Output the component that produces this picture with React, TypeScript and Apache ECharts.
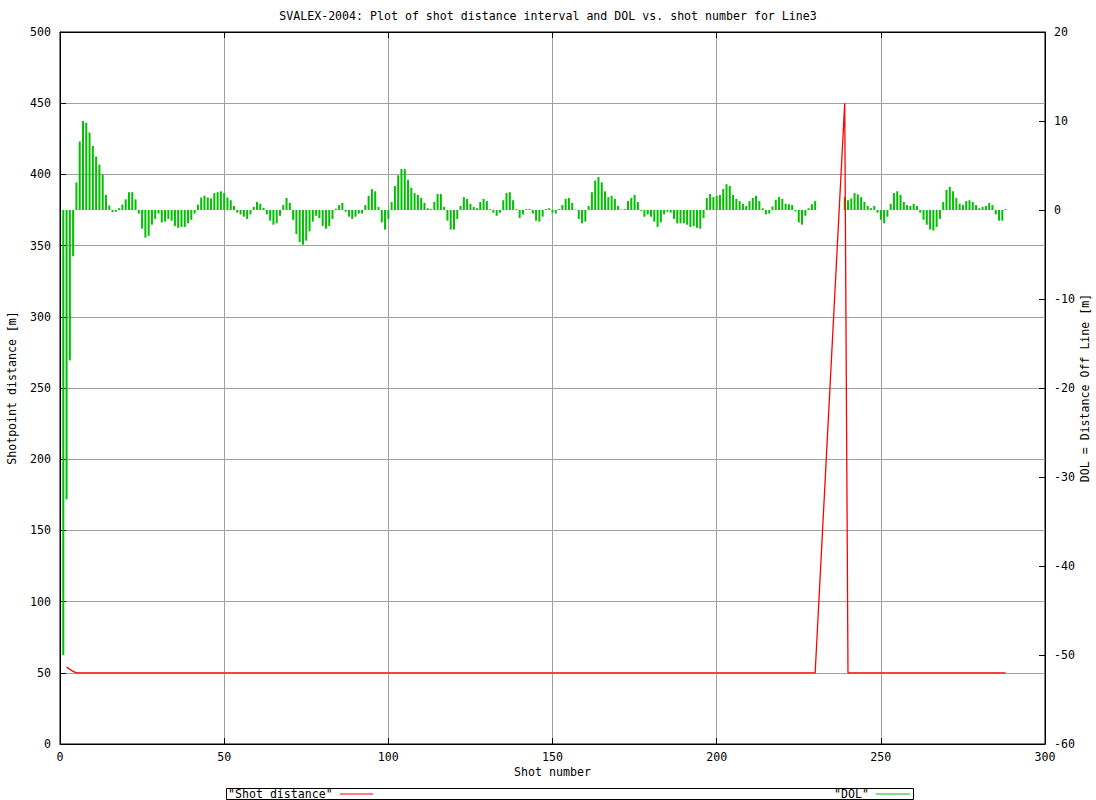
import React, { useEffect, useRef } from "react";
import * as echarts from "echarts";

const TITLE = "SVALEX-2004: Plot of shot distance interval and DOL vs. shot number for Line3";
const X_NAME = "Shot number";
const Y_NAME = "Shotpoint distance [m]";
const Y2_NAME = "DOL = Distance Off Line [m]";
const SERIES_DIST = "Shot distance";
const SERIES_DOL = "DOL";

// Shot distance (left axis), vertices of the red line: [shot, distance]
const shotDistance: [number, number][] = [
  [2, 54], [3, 52.5], [4, 51], [5, 50], [230, 50], [239, 450], [240, 50], [288, 50],
];

// DOL (right axis) for shots 1..288 (null = missing shot)
const dol: (number | null)[] = [
  -50, -32.5, -16.9, -5.2, 3.1, 7.7, 10.0, 9.8, 8.7, 7.2,
  6.0, 5.1, 4.0, 1.7, 0.5, -0.25, -0.2, 0.2, 0.6, 1.2,
  2.0, 2.0, 1.2, -0.4, -2.1, -3.1, -2.9, -1.65, -1.0, -0.4,
  -1.4, -1.3, -1.0, -1.2, -1.8, -2.0, -1.9, -1.9, -1.5, -1.1,
  -0.4, 0.6, 1.4, 1.6, 1.4, 1.3, 1.9, 2.0, 2.1, 1.9,
  1.4, 1.1, 0.45, -0.3, -0.5, -0.75, -1.0, -0.5, 0.35, 0.9,
  0.7, 0.25, -0.5, -1.2, -1.65, -1.5, -0.65, 0.55, 1.35, 0.8,
  -1.1, -2.7, -3.6, -3.9, -3.45, -2.4, -1.3, -0.65, -0.9, -1.8,
  -2.1, -1.8, -1.0, 0.15, 0.55, 0.8, -0.2, -0.75, -1.0, -0.75,
  -0.4, -0.4, 0.55, 1.6, 2.35, 2.1, 0.35, -1.4, -2.2, -1.0,
  0.9, 2.7, 3.9, 4.6, 4.6, 3.4, 2.5, 1.9, 1.7, 1.35,
  0.8, 0.2, 0.1, 0.9, 1.8, 1.8, 0.35, -1.2, -2.2, -2.2,
  -1.0, 0.45, 1.45, 1.25, 0.7, 0.35, 0.2, 0.9, 1.25, 1.0,
  0.1, -0.3, -0.65, -0.3, 1.1, 1.9, 2.0, 1.1, 0.1, -0.9,
  -0.5, 0.1, 0.1, -0.4, -1.2, -1.3, -0.75, 0.1, 0.2, -0.3,
  -0.4, 0.1, 0.55, 1.25, 1.35, 0.8, 0.05, -1.0, -1.5, -1.3,
  0.45, 2.0, 3.3, 3.7, 3.1, 2.1, 1.45, 1.6, 1.25, 0.45,
  0.05, 0.1, 1.0, 1.35, 1.7, 0.9, -0.1, -0.75, -0.5, -0.75,
  -1.3, -1.9, -1.4, -0.5, -0.2, -0.3, -1.0, -1.5, -1.5, -1.5,
  -1.65, -1.9, -1.8, -2.0, -2.1, -0.9, 1.35, 1.8, 1.45, 1.6,
  1.7, 2.35, 2.9, 2.7, 1.7, 1.25, 1.0, 0.7, 0.45, 1.0,
  1.35, 1.6, 1.0, 0.2, -0.5, -0.4, 0.4, 1.15, 1.45, 1.25,
  0.7, 0.65, 0.55, -0.15, -1.4, -1.65, -0.65, 0.2, 0.65, 1.0,
  null, null, null, null, null, null, null, null, 1.45, 1.1,
  1.3, 1.9, 1.75, 1.45, 0.9, 0.45, 0.2, 0.45, -0.3, -1.1,
  -1.5, -0.75, 0.7, 1.9, 2.1, 1.7, 0.9, 0.55, 0.45, 0.7,
  0.45, -0.3, -1.1, -1.65, -2.2, -2.3, -1.9, -1.0, 0.9, 2.25,
  2.6, 2.1, 1.35, 0.7, 0.55, 1.0, 1.1, 0.9, 0.55, 0.2,
  0.35, 0.45, 0.8, 0.55, -0.5, -1.2, -1.2, 0.1,
];

const FONT = '"DejaVu Sans Mono", "Liberation Mono", monospace';
const FS = 11.6;

export default function App() {
  const ref = useRef<HTMLDivElement>(null);
  useEffect(() => {
    if (!ref.current) return;
    const chart = echarts.init(ref.current, undefined, { renderer: "svg" });
    const dolPts: [number, number][] = [];
    dol.forEach((v, i) => {
      if (v !== null) dolPts.push([i + 1, v]);
    });
    const txt = { fontFamily: FONT, fontSize: FS, color: "#000" };
    const L = 60, R = 1045, T = 32, B = 744;
    chart.setOption({
      animation: false,
      backgroundColor: "#ffffff",
      title: {
        text: TITLE,
        left: "center",
        top: 5,
        textStyle: { ...txt, fontWeight: "normal" },
      },
      grid: {
        left: L, right: 1096 - R, top: T, bottom: 800 - B,
        containLabel: false, outerBoundsMode: "none",
        show: true, borderColor: "#000", borderWidth: 1, backgroundColor: "transparent",
      },
      xAxis: [
        {
          type: "value", min: 0, max: 300, interval: 50, position: "bottom",
          name: X_NAME, nameLocation: "middle", nameGap: 22, nameTextStyle: txt,
          nameMoveOverlap: false,
          axisLine: { show: true, onZero: false, lineStyle: { color: "#000", width: 1 } },
          axisTick: { show: true, inside: true, length: 6, lineStyle: { color: "#000" } },
          axisLabel: { ...txt, margin: 7 },
          splitLine: { show: true, lineStyle: { color: "#a0a0a0", width: 1 } },
        },
        {
          type: "value", min: 0, max: 300, interval: 50, position: "top",
          axisLine: { show: true, onZero: false, lineStyle: { color: "#000", width: 1 } },
          axisTick: { show: true, inside: true, length: 6, lineStyle: { color: "#000" } },
          axisLabel: { show: false },
          splitLine: { show: false },
        },
      ],
      yAxis: [
        {
          type: "value", min: 0, max: 500, interval: 50, position: "left",
          name: Y_NAME, nameLocation: "middle", nameGap: 42, nameRotate: 90, nameTextStyle: txt,
          nameMoveOverlap: false,
          axisLine: { show: true, onZero: false, lineStyle: { color: "#000", width: 1 } },
          axisTick: { show: true, inside: true, length: 6, lineStyle: { color: "#000" } },
          axisLabel: { ...txt, margin: 9 },
          splitLine: { show: true, lineStyle: { color: "#a0a0a0", width: 1 } },
        },
        {
          type: "value", min: -60, max: 20, interval: 10, position: "right",
          name: Y2_NAME, nameLocation: "middle", nameGap: 34, nameRotate: 90, nameTextStyle: txt,
          nameMoveOverlap: false,
          axisLine: { show: true, onZero: false, lineStyle: { color: "#000", width: 1 } },
          axisTick: { show: true, inside: true, length: 6, lineStyle: { color: "#000" } },
          axisLabel: { ...txt, margin: 9 },
          splitLine: { show: false },
        },
      ],
      series: [
        {
          name: SERIES_DOL, type: "custom", xAxisIndex: 0, yAxisIndex: 1,
          data: dolPts, z: 2,
          renderItem: (params: any, api: any) => {
            const x = api.value(0);
            const v = api.value(1);
            const p0 = api.coord([x, 0]);
            const p1 = api.coord([x, v]);
            return {
              type: "line",
              shape: { x1: p0[0], y1: p0[1], x2: p1[0], y2: p1[1] },
              style: { stroke: "#00c000", lineWidth: 2 },
            };
          },
        },
        {
          name: SERIES_DIST, type: "line", xAxisIndex: 0, yAxisIndex: 0,
          data: shotDistance, symbol: "none", showSymbol: false,
          lineStyle: { color: "#ff0000", width: 1.3 }, z: 3,
        },
      ],
      graphic: [
        { type: "rect", shape: { x: 226.5, y: 788.5, width: 687, height: 11 }, style: { fill: "none", stroke: "#000", lineWidth: 1 } },
        { type: "text", x: 228, y: 794, style: { text: '"' + SERIES_DIST + '"', font: `${FS}px ${FONT}`, fill: "#000", textVerticalAlign: "middle", verticalAlign: "middle" } },
        { type: "line", shape: { x1: 340, y1: 794, x2: 373, y2: 794 }, style: { stroke: "#ff0000", lineWidth: 1 } },
        { type: "text", x: 834, y: 794, style: { text: '"' + SERIES_DOL + '"', font: `${FS}px ${FONT}`, fill: "#000", textVerticalAlign: "middle", verticalAlign: "middle" } },
        { type: "line", shape: { x1: 876, y1: 794, x2: 910, y2: 794 }, style: { stroke: "#00c000", lineWidth: 1 } },
      ],
    });
    return () => chart.dispose();
  }, []);
  return (
    <div
      ref={ref}
      style={{ position: "fixed", left: 0, top: 0, width: 1096, height: 800, background: "#fff" }}
    />
  );
}
